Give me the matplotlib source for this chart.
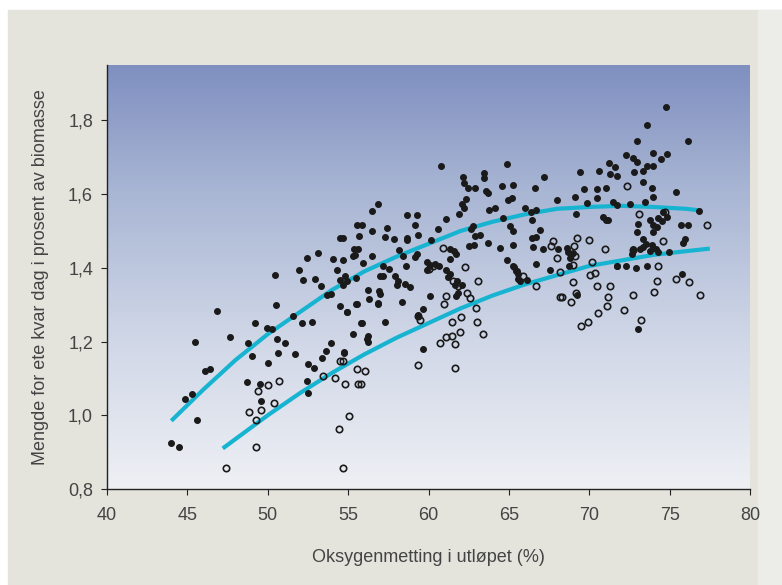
import numpy as np
import matplotlib
matplotlib.use("Agg")
import matplotlib.pyplot as plt
from matplotlib.colors import LinearSegmentedColormap
from matplotlib.patches import Rectangle

plt.rcParams['font.family'] = ['Liberation Sans', 'DejaVu Sans']

# fish fed with full oxygen (filled dots)
fed_x = [46.86, 45.47, 47.65, 46.10, 46.40, 44.85, 45.30, 45.58, 43.96, 44.50,
         50.45, 50.50, 49.20, 49.97, 50.24, 48.79, 50.55, 51.07, 49.04, 50.65,
         50.03, 51.69, 48.73, 49.52, 49.58, 52.42, 53.15, 51.96, 52.21, 52.97,
         53.29, 54.08, 54.66, 54.49, 53.71, 53.92, 54.29, 54.49, 51.59, 52.11,
         52.73, 54.49, 54.91, 53.92, 53.61, 53.40, 54.76, 52.48, 52.87, 52.46,
         55.32, 55.43, 55.63, 55.53, 55.53, 52.52, 55.78, 56.20, 56.32, 56.84,
         60.78, 64.87, 62.17, 62.21, 63.45, 63.45, 62.48, 62.89, 63.55, 63.71,
         64.55, 65.23, 65.17, 64.96, 62.33, 62.06, 62.21, 61.92, 63.78, 64.14,
         64.65, 61.08, 56.88, 56.47, 58.64, 59.30, 59.15, 55.85, 56.47, 57.40,
         57.29, 55.70, 57.85, 58.64, 58.68, 59.37, 60.61, 60.13, 62.78, 62.62,
         63.20, 62.89, 63.71, 64.44, 65.26, 62.54, 62.85, 54.66, 55.36, 55.32,
         55.94, 56.47, 58.18, 58.43, 59.15, 59.30, 57.19, 57.56, 58.60, 59.92,
         60.09, 60.40, 60.67, 61.34, 61.59, 61.71, 61.34, 61.08, 61.34, 61.23,
         61.79, 61.65, 62.06, 61.86, 61.71, 59.89, 64.87, 65.26, 65.44, 65.58,
         54.80, 54.91, 54.66, 55.49, 56.98, 57.15, 57.92, 58.12, 58.02, 58.54,
         58.85, 56.26, 56.94, 56.98, 58.33, 60.09, 54.95, 55.49, 56.88, 59.64,
         55.85, 57.29, 56.26, 56.26, 54.74, 59.68, 59.37,
         69.42, 70.63, 71.24, 71.60, 71.29, 71.70, 67.18, 66.63, 69.70, 70.49,
         71.06, 69.11, 69.88, 70.50, 68.01, 66.00, 66.35, 66.68, 69.17, 70.83,
         71.04, 71.18, 66.42, 65.07, 65.23, 66.95, 66.42, 66.68, 66.48, 67.10,
         68.07, 68.59, 68.69, 68.84, 69.00, 66.68, 65.32, 65.53, 65.59, 65.69,
         66.10, 67.56, 71.70, 68.80, 68.76, 69.26,
         74.78, 73.61, 72.95, 76.17, 73.94, 74.81, 74.44, 72.29, 72.70, 72.99,
         73.57, 73.94, 73.36, 72.78, 73.32, 73.88, 73.94, 75.42, 71.50, 71.70,
         72.54, 73.47, 76.85, 74.61, 74.81, 74.30, 73.78, 73.99, 74.50, 74.19,
         73.05, 72.99, 75.69, 76.17, 73.99, 75.96, 75.85, 73.32, 73.53, 73.36,
         73.16, 72.74, 72.64, 73.88, 74.15, 73.78, 74.30, 74.98, 71.75, 72.29,
         72.91, 73.57, 73.05, 75.75]
fed_y = [1.283, 1.199, 1.211, 1.120, 1.125, 1.045, 1.059, 0.986, 0.925, 0.914,
         1.381, 1.299, 1.249, 1.238, 1.235, 1.197, 1.206, 1.195, 1.161, 1.168,
         1.143, 1.165, 1.090, 1.084, 1.038, 1.426, 1.441, 1.393, 1.368, 1.370,
         1.350, 1.424, 1.420, 1.481, 1.326, 1.329, 1.393, 1.368, 1.270, 1.249,
         1.252, 1.297, 1.281, 1.195, 1.174, 1.155, 1.170, 1.138, 1.129, 1.093,
         1.220, 1.434, 1.452, 1.515, 1.302, 1.061, 1.250, 1.208, 1.315, 1.302,
         1.677, 1.681, 1.647, 1.631, 1.658, 1.643, 1.616, 1.617, 1.609, 1.602,
         1.623, 1.625, 1.588, 1.583, 1.586, 1.574, 1.563, 1.547, 1.556, 1.561,
         1.534, 1.532, 1.574, 1.553, 1.544, 1.543, 1.517, 1.517, 1.499, 1.508,
         1.484, 1.486, 1.479, 1.481, 1.474, 1.490, 1.504, 1.474, 1.514, 1.506,
         1.490, 1.486, 1.467, 1.453, 1.461, 1.459, 1.461, 1.481, 1.452, 1.432,
         1.414, 1.432, 1.447, 1.432, 1.429, 1.438, 1.405, 1.397, 1.406, 1.417,
         1.408, 1.411, 1.406, 1.452, 1.445, 1.438, 1.424, 1.393, 1.384, 1.375,
         1.365, 1.354, 1.352, 1.332, 1.324, 1.393, 1.420, 1.405, 1.390, 1.370,
         1.379, 1.365, 1.352, 1.372, 1.377, 1.377, 1.379, 1.363, 1.354, 1.356,
         1.347, 1.341, 1.338, 1.329, 1.306, 1.324, 1.279, 1.302, 1.305, 1.288,
         1.249, 1.253, 1.215, 1.199, 1.172, 1.181, 1.272,
         1.659, 1.663, 1.684, 1.672, 1.654, 1.650, 1.645, 1.617, 1.614, 1.614,
         1.617, 1.593, 1.577, 1.588, 1.583, 1.561, 1.552, 1.556, 1.547, 1.538,
         1.529, 1.529, 1.529, 1.514, 1.499, 1.502, 1.481, 1.484, 1.456, 1.452,
         1.450, 1.454, 1.443, 1.435, 1.441, 1.411, 1.402, 1.390, 1.384, 1.365,
         1.368, 1.395, 1.405, 1.427, 1.406, 1.326,
         1.835, 1.787, 1.744, 1.743, 1.711, 1.708, 1.695, 1.706, 1.699, 1.686,
         1.675, 1.677, 1.663, 1.661, 1.634, 1.617, 1.593, 1.605, 1.579, 1.570,
         1.574, 1.579, 1.553, 1.550, 1.538, 1.534, 1.529, 1.517, 1.526, 1.511,
         1.520, 1.497, 1.515, 1.517, 1.497, 1.479, 1.468, 1.479, 1.465, 1.456,
         1.452, 1.452, 1.438, 1.461, 1.452, 1.445, 1.443, 1.443, 1.405, 1.406,
         1.399, 1.405, 1.235, 1.384]

# reduced oxygen group (open circles)
low_x = [50.03, 49.41, 50.72, 50.41, 48.85, 49.56, 49.27, 49.25, 47.38, 54.49,
         53.46, 54.16, 54.80, 55.63, 55.57, 55.06, 54.45, 54.66, 60.92, 62.27,
         60.05, 60.30, 63.10, 61.54, 61.86, 61.08, 60.96, 62.37, 62.58, 59.37,
         59.47, 61.44, 62.00, 63.00, 62.95, 63.37, 60.71, 61.08, 61.44, 61.65,
         61.96, 59.37, 61.65, 54.70, 56.05, 55.78, 67.76, 67.60, 69.26, 70.00,
         69.05, 70.98, 67.97, 69.11, 68.96, 70.14, 68.18, 70.35, 70.05, 65.85,
         69.00, 70.46, 71.29, 69.17, 68.18, 71.18, 71.08, 68.84, 66.68, 70.56,
         69.46, 69.94, 72.37, 73.12, 74.71, 77.35, 74.56, 72.70, 74.30, 74.23,
         74.03, 75.40, 76.23, 76.89, 72.74, 72.16, 73.20, 68.28]
low_y = [1.081, 1.065, 1.093, 1.032, 1.008, 1.015, 0.986, 0.914, 0.858, 1.146,
         1.106, 1.102, 1.084, 1.084, 1.126, 0.999, 0.963, 0.856, 1.454, 1.402,
         1.397, 1.405, 1.363, 1.365, 1.350, 1.324, 1.302, 1.332, 1.317, 1.270,
         1.259, 1.253, 1.266, 1.252, 1.290, 1.220, 1.197, 1.211, 1.215, 1.193,
         1.225, 1.135, 1.129, 1.147, 1.120, 1.084, 1.472, 1.459, 1.481, 1.474,
         1.459, 1.452, 1.426, 1.432, 1.408, 1.417, 1.388, 1.386, 1.381, 1.379,
         1.361, 1.350, 1.350, 1.332, 1.320, 1.320, 1.296, 1.306, 1.350, 1.277,
         1.243, 1.253, 1.623, 1.545, 1.550, 1.517, 1.472, 1.447, 1.406, 1.365,
         1.335, 1.370, 1.361, 1.326, 1.326, 1.286, 1.259, 1.322]

# regression curves
upper_x = [44, 46, 48, 50, 52, 54, 56, 58, 60, 62, 64, 66, 68, 70, 72, 74, 76, 77]
upper_y = [0.985, 1.07, 1.15, 1.22, 1.28, 1.34, 1.39, 1.43, 1.465, 1.50, 1.525,
           1.545, 1.56, 1.565, 1.568, 1.565, 1.56, 1.555]
lower_x = [47.2, 50, 52, 54, 56, 58, 60, 62, 64, 66, 68, 70, 72, 74, 76, 77.5]
lower_y = [0.91, 1.0, 1.06, 1.115, 1.165, 1.21, 1.25, 1.29, 1.325, 1.355, 1.38,
           1.405, 1.42, 1.435, 1.445, 1.452]

xticks = [40, 45, 50, 55, 60, 65, 70, 75, 80]
yticks = [0.8, 1.0, 1.2, 1.4, 1.6, 1.8]
ytick_labels = ['0,8', '1,0', '1,2', '1,4', '1,6', '1,8']

fig = plt.figure(figsize=(7.82, 5.85), dpi=100, facecolor='white')
# grey card behind the chart
fig.patches.append(Rectangle((8/782, 0), 1, 575/585, transform=fig.transFigure,
                             color='#e4e4dd', zorder=-10))
fig.patches.append(Rectangle((758/782, 0), 1, 575/585, transform=fig.transFigure,
                             color='#ececE8', zorder=-9))

ax = fig.add_axes([107/782, 1 - 489/585, 643/782, 424/585])
ax.set_xlim(40, 80)
ax.set_ylim(0.8, 1.95)

# blue-to-white background gradient
grad = LinearSegmentedColormap.from_list(
    'bg', [(0.0, '#eef0f4'), (0.35, '#d0d7e7'), (0.7, '#a9b6d4'), (1.0, '#7f8fc0')])
ax.imshow(np.linspace(0, 1, 256).reshape(-1, 1), cmap=grad, aspect='auto',
          extent=[40, 80, 0.8, 1.95], origin='lower', zorder=0)

ax.plot(upper_x, upper_y, color='#17b4d2', lw=3, solid_capstyle='butt', zorder=2)
ax.plot(lower_x, lower_y, color='#17b4d2', lw=3, solid_capstyle='butt', zorder=2)
ax.plot(fed_x, fed_y, 'o', color='#1a1a1a', ms=4, mec='#1a1a1a', zorder=3)
ax.plot(low_x, low_y, 'o', mfc='none', mec='#1a1a1a', ms=4.6, mew=1.2, zorder=3)

for s in ['top', 'right']:
    ax.spines[s].set_visible(False)
for s in ['left', 'bottom']:
    ax.spines[s].set_linewidth(1.0)
    ax.spines[s].set_color('#222222')

ax.set_xticks(xticks)
ax.set_yticks(yticks)
ax.set_yticklabels(ytick_labels)
ax.tick_params(length=4, width=0.8, colors='#222222', labelcolor='#444444',
               labelsize=13, pad=6)
ax.tick_params(axis='x', pad=9)
ax.set_xlabel('Oksygenmetting i utløpet (%)', fontsize=13, color='#444444', labelpad=18)
ax.set_ylabel('Mengde for ete kvar dag i prosent av biomasse', fontsize=13,
              color='#444444', labelpad=14)

fig.savefig('out.png', dpi=100)
